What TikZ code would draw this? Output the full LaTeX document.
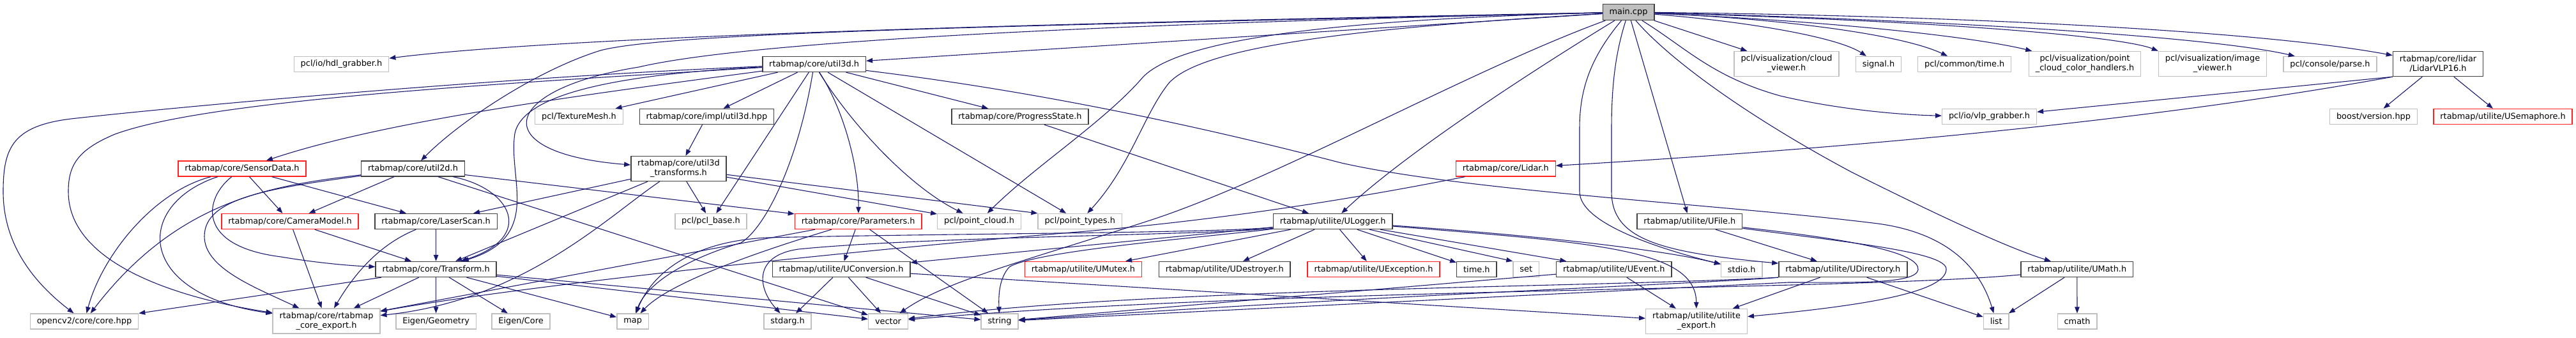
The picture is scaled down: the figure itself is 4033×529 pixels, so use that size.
\documentclass[tikz,border=0pt]{standalone}
\usepackage{fontspec}
\setmainfont{DejaVu Sans}
\usepackage{tikz}
\usetikzlibrary{arrows.meta}
\definecolor{edgeblue}{HTML}{191970}
\definecolor{docgray}{HTML}{404040}
\definecolor{extgray}{HTML}{BFBFBF}
\definecolor{cutred}{HTML}{FF2020}
\tikzset{
  incfile/.style={rectangle, draw=docgray, line width=1.4pt, fill=white, align=center,
                  font=\fontsize{12.9}{15}\selectfont, inner xsep=10.4pt, inner ysep=2pt,
                  minimum height=24pt},
  extfile/.style={incfile, draw=extgray},
  cutfile/.style={incfile, draw=cutred},
  rootfile/.style={incfile, fill=extgray, minimum height=25pt},
  twoline/.style={minimum height=39pt},
  dep/.style={-{Triangle[length=10pt, width=7.5pt]}, draw=edgeblue, line width=1.1pt},
}

\begin{document}
\begin{tikzpicture}[x=1pt, y=-1pt]
\useasboundingbox (0,0) rectangle (4033,529);

% row 0 and 1
\node[rootfile] (main) at (2549.5,19) {main.cpp};
\node[extfile] (hdl) at (534.5,100.5) {pcl/io/hdl\_grabber.h};
\node[incfile] (util3d) at (1274.6,100.5) {rtabmap/core/util3d.h};
\node[extfile, twoline] (cloudview) at (2797,100) {pcl/visualization/cloud\\\_viewer.h};
\node[extfile] (signalh) at (2941,100.5) {signal.h};
\node[extfile] (pcltime) at (3075.7,100.5) {pcl/common/time.h};
\node[extfile, twoline] (colorhandl) at (3264,100) {pcl/visualization/point\\\_cloud\_color\_handlers.h};
\node[extfile, twoline] (imageview) at (3464,100) {pcl/visualization/image\\\_viewer.h};
\node[extfile] (parseh) at (3648,100.5) {pcl/console/parse.h};
\node[incfile, twoline] (vlpsixteen) at (3817,100) {rtabmap/core/lidar\\/LidarVLP16.h};

% row 2
\node[extfile] (texmesh) at (906.5,182.5) {pcl/TextureMesh.h};
\node[incfile] (util3dimpl) at (1106.4,182.5) {rtabmap/core/impl/util3d.hpp};
\node[incfile] (progress) at (1597,182.5) {rtabmap/core/ProgressState.h};
\node[extfile] (vlpgrab) at (3114.5,182.5) {pcl/io/vlp\_grabber.h};
\node[extfile] (boostver) at (3716,182.5) {boost/version.hpp};
\node[cutfile] (usema) at (3918.5,182.5) {rtabmap/utilite/USemaphore.h};

% row 3
\node[cutfile] (sensordata) at (379,264) {rtabmap/core/SensorData.h};
\node[incfile] (util2d) at (646.5,264) {rtabmap/core/util2d.h};
\node[incfile, twoline] (util3dtf) at (1062.5,264) {rtabmap/core/util3d\\\_transforms.h};
\node[cutfile] (lidar) at (2357.3,264) {rtabmap/core/Lidar.h};

% row 4
\node[cutfile] (cammodel) at (454,346.5) {rtabmap/core/CameraModel.h};
\node[incfile] (laserscan) at (682.6,346.5) {rtabmap/core/LaserScan.h};
\node[extfile] (pclbase) at (1113,346.5) {pcl/pcl\_base.h};
\node[cutfile] (params) at (1343.7,346.5) {rtabmap/core/Parameters.h};
\node[extfile] (pcloud) at (1533,346.5) {pcl/point\_cloud.h};
\node[extfile] (ptypes) at (1690.7,346.5) {pcl/point\_types.h};
\node[incfile] (ulogger) at (2086.7,346.5) {rtabmap/utilite/ULogger.h};
\node[incfile] (ufile) at (2645.3,346.5) {rtabmap/utilite/UFile.h};

% row 5
\node[incfile] (transform) at (682.6,421.5) {rtabmap/core/Transform.h};
\node[incfile] (uconv) at (1317,421.5) {rtabmap/utilite/UConversion.h};
\node[cutfile] (umutex) at (1696,421.5) {rtabmap/utilite/UMutex.h};
\node[incfile] (udestroy) at (1917.3,421.5) {rtabmap/utilite/UDestroyer.h};
\node[cutfile] (uexcept) at (2150.5,421.5) {rtabmap/utilite/UException.h};
\node[incfile] (timeh) at (2311.8,421.5) {time.h};
\node[extfile] (seth) at (2389.2,421.5) {set};
\node[incfile] (uevent) at (2526.7,421.5) {rtabmap/utilite/UEvent.h};
\node[extfile] (stdioh) at (2726.7,421.5) {stdio.h};
\node[incfile] (udir) at (2885.3,421.5) {rtabmap/utilite/UDirectory.h};
\node[incfile] (umath) at (3251.8,421.5) {rtabmap/utilite/UMath.h};

% row 6
\node[extfile] (opencv) at (132,503) {opencv2/core/core.hpp};
\node[extfile, twoline] (coreexp) at (511,502.5) {rtabmap/core/rtabmap\\\_core\_export.h};
\node[extfile] (eigengeo) at (682.6,503) {Eigen/Geometry};
\node[extfile] (eigencore) at (815.6,503) {Eigen/Core};
\node[extfile] (maph) at (990.6,503) {map};
\node[extfile] (stdargh) at (1233,503) {stdarg.h};
\node[extfile] (vectorh) at (1390.5,503) {vector};
\node[extfile] (stringh) at (1565,503) {string};
\node[extfile, twoline] (utilexp) at (2656,503) {rtabmap/utilite/utilite\\\_export.h};
\node[extfile] (listh) at (3125.2,503) {list};
\node[extfile] (cmathh) at (3252,503) {cmath};

% main.cpp
\draw[dep] (main) -- (util3d);
\draw[dep] (main) .. controls (1700,35) and (900,55) .. (hdl);
\draw[dep] (main) .. controls (1600,40) and (1050,50) .. (940,79) .. controls (840,110) and (720,190) .. (util2d);
\draw[dep] (main) .. controls (1600,40) and (1150,70) .. (1000,105) .. controls (780,140) and (760,240) .. (util3dtf);
\draw[dep] (main) .. controls (2100,30) and (1850,60) .. (1790,120) .. controls (1730,190) and (1620,260) .. (pcloud);
\draw[dep] (main) .. controls (2100,45) and (1880,75) .. (1830,130) .. controls (1790,180) and (1770,260) .. (ptypes);
\draw[dep] (main) .. controls (2300,110) and (2000,280) .. (1800,345) .. controls (1600,410) and (1480,440) .. (vectorh);
\draw[dep] (main) .. controls (2400,110) and (2200,240) .. (ulogger);
\draw[dep] (main) .. controls (2490,90) and (2473,140) .. (2473,200) -- (2473,300) .. controls (2473,350) and (2600,390) .. (stdioh);
\draw[dep] (main) .. controls (2530,80) and (2523,130) .. (2523,200) -- (2523,300) .. controls (2523,375) and (2600,395) .. (udir);
\draw[dep] (main) -- (ufile);
\draw[dep] (main) .. controls (2620,100) and (2750,190) .. (2900,270) .. controls (3050,345) and (3150,390) .. (umath);
\draw[dep] (main) .. controls (2640,75) and (2680,120) .. (2787,150) .. controls (2880,172) and (2980,180) .. (vlpgrab);
\draw[dep] (main) -- (cloudview);
\draw[dep] (main) .. controls (2750,35) and (2880,60) .. (signalh);
\draw[dep] (main) .. controls (2800,30) and (2980,55) .. (pcltime);
\draw[dep] (main) .. controls (2900,35) and (3100,60) .. (colorhandl);
\draw[dep] (main) .. controls (3100,35) and (3330,60) .. (imageview.north west);
\draw[dep] (main) .. controls (3000,30) and (3450,55) .. (parseh);
\draw[dep] (main) .. controls (3100,25) and (3550,50) .. (vlpsixteen);

% lidar
\draw[dep] (vlpsixteen.south west) .. controls (3500,165) and (3100,220) .. (lidar);
\draw[dep] (vlpsixteen.south west) -- (vlpgrab);
\draw[dep] (vlpsixteen) -- (boostver);
\draw[dep] (vlpsixteen) -- (usema);
\draw[dep] (lidar) .. controls (2100,315) and (1900,345) .. (1700,362) .. controls (1300,395) and (800,450) .. (coreexp);

% util3d
\draw[dep] (util3d) .. controls (800,120) and (300,165) .. (120,185) .. controls (20,195) and (5,230) .. (5,300) .. controls (5,380) and (50,440) .. (opencv);
\draw[dep] (util3d) .. controls (800,130) and (330,155) .. (180,210) .. controls (120,235) and (107,260) .. (107,300) .. controls (107,420) and (300,470) .. (coreexp);
\draw[dep] (util3d) .. controls (900,150) and (600,190) .. (sensordata);
\draw[dep] (util3d) .. controls (1000,115) and (820,140) .. (806,209) .. controls (795,280) and (850,370) .. (transform);
\draw[dep] (util3d) -- (texmesh);
\draw[dep] (util3d) -- (util3dimpl);
\draw[dep] (util3d) -- (pclbase);
\draw[dep] (util3d) .. controls (1250,250) and (1200,355) .. (1160,380) .. controls (1060,410) and (1010,450) .. (maph);
\draw[dep] (util3d) .. controls (1320,170) and (1345,260) .. (params);
\draw[dep] (util3d) .. controls (1330,190) and (1420,290) .. (pcloud);
\draw[dep] (util3d) -- (ptypes);
\draw[dep] (util3d) -- (progress);
\draw[dep] (util3d) .. controls (1600,140) and (1850,190) .. (2100,255) .. controls (2300,300) and (2700,320) .. (2940,350) .. controls (3050,365) and (3100,420) .. (listh);
\draw[dep] (util3dimpl) -- (util3dtf);

% util3d_transforms
\draw[dep] (util3dtf) -- (laserscan);
\draw[dep] (util3dtf) -- (transform);
\draw[dep] (util3dtf) .. controls (950,340) and (820,470) .. (coreexp);
\draw[dep] (util3dtf) -- (pclbase);
\draw[dep] (util3dtf) -- (pcloud);
\draw[dep] (util3dtf) -- (ptypes.north west);

% util2d, sensor data
\draw[dep] (util2d) -- (cammodel);
\draw[dep] (util2d) -- (params);
\draw[dep] (util2d) .. controls (800,295) and (840,370) .. (transform);
\draw[dep] (util2d) -- (vectorh);
\draw[dep] (util2d) .. controls (430,290) and (280,310) .. (opencv);
\draw[dep] (util2d) .. controls (420,295) and (320,310) .. (320,370) .. controls (320,420) and (400,450) .. (coreexp);
\draw[dep] (sensordata) -- (cammodel);
\draw[dep] (sensordata) -- (laserscan);
\draw[dep] (sensordata) .. controls (240,300) and (160,400) .. (opencv);
\draw[dep] (sensordata) .. controls (210,320) and (210,460) .. (coreexp);
\draw[dep] (sensordata) .. controls (320,310) and (305,385) .. (440,402) .. controls (500,412) and (550,416) .. (transform);
\draw[dep] (cammodel) -- (coreexp);
\draw[dep] (cammodel) -- (transform);
\draw[dep] (laserscan) -- (transform);
\draw[dep] (laserscan) .. controls (600,380) and (560,420) .. (coreexp);

% transform
\draw[dep] (transform) -- (opencv);
\draw[dep] (transform) -- (coreexp);
\draw[dep] (transform) -- (eigengeo);
\draw[dep] (transform) -- (eigencore);
\draw[dep] (transform) -- (maph);
\draw[dep] (transform) -- (vectorh);
\draw[dep] (transform) -- (stringh);

% parameters, conversion
\draw[dep] (params) -- (uconv);
\draw[dep] (params) -- (stringh);
\draw[dep] (params) .. controls (1200,390) and (1050,440) .. (maph);
\draw[dep] (params) -- (coreexp);
\draw[dep] (uconv) -- (stdargh);
\draw[dep] (uconv) -- (vectorh);
\draw[dep] (uconv) -- (stringh);
\draw[dep] (uconv) -- (utilexp);

% logger
\draw[dep] (progress) -- (ulogger);
\draw[dep] (ulogger) -- (udestroy);
\draw[dep] (ulogger) -- (uexcept);
\draw[dep] (ulogger) -- (timeh);
\draw[dep] (ulogger) -- (seth.north west);
\draw[dep] (ulogger) -- (uevent);
\draw[dep] (ulogger) .. controls (2400,368) and (2600,390) .. (stdioh);
\draw[dep] (ulogger) .. controls (2500,380) and (2655,390) .. (utilexp);
\draw[dep] (ulogger) -- (umutex);
\draw[dep] (ulogger) -- (uconv);
\draw[dep] (ulogger) .. controls (1900,365) and (1500,365) .. (1200,372) .. controls (1080,378) and (1020,430) .. (maph);
\draw[dep] (ulogger) .. controls (1900,368) and (1450,370) .. (1250,390) .. controls (1180,400) and (1185,450) .. (stdargh);
\draw[dep] (ulogger) .. controls (1900,370) and (1620,392) .. (1580,418) .. controls (1565,435) and (1563,460) .. (stringh);

% utilite
\draw[dep] (uevent) -- (utilexp);
\draw[dep] (uevent) -- (stringh);
\draw[dep] (ufile) -- (udir);
\draw[dep] (ufile) .. controls (2900,380) and (3050,395) .. (3047,422) .. controls (3045,460) and (2900,480) .. (utilexp);
\draw[dep] (ufile) .. controls (2900,375) and (3005,395) .. (3003,422) .. controls (3000,445) and (2900,442) .. (2800,442) -- (stringh);
\draw[dep] (udir) -- (utilexp);
\draw[dep] (udir) -- (listh);
\draw[dep] (udir.south west) .. controls (2650,445) and (2200,460) .. (stringh);
\draw[dep] (udir.south west) .. controls (2500,450) and (1800,450) .. (vectorh);
\draw[dep] (umath) -- (listh);
\draw[dep] (umath) -- (cmathh);
\draw[dep] (umath) .. controls (2900,455) and (2000,450) .. (vectorh);
\end{tikzpicture}
\end{document}
